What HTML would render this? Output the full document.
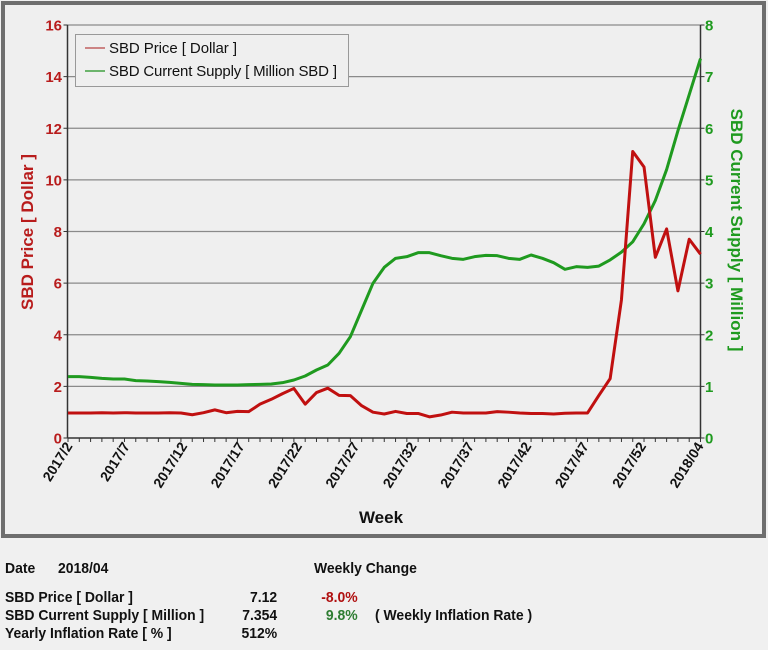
<!DOCTYPE html>
<html><head><meta charset="utf-8"><style>
html,body{margin:0;padding:0;background:#f0f0f0;}
body{width:768px;height:650px;position:relative;overflow:hidden;font-family:"Liberation Sans",Arial,sans-serif;}
.t{position:absolute;font-size:15px;font-weight:bold;color:#111;white-space:nowrap;line-height:16px;transform:scaleX(0.93);transform-origin:left;}
</style></head><body>
<svg id="s" width="768" height="545" style="position:absolute;left:0;top:0" font-family="Liberation Sans, Arial, sans-serif">
<rect x="3" y="3" width="761" height="533" fill="#efefef" stroke="#6e6e6e" stroke-width="4"/>
</svg>
<div class="t" style="left:5px;top:561px">Date</div>
<div class="t" style="left:58px;top:561px">2018/04</div>
<div class="t" style="left:314px;top:561px">Weekly Change</div>
<div class="t" style="left:5px;top:590px">SBD Price [ Dollar ]</div>
<div class="t" style="left:5px;top:608px">SBD Current Supply [ Million ]</div>
<div class="t" style="left:5px;top:626px">Yearly Inflation Rate [ % ]</div>
<div class="t" style="left:200px;top:590px;width:83px;text-align:right">7.12</div>
<div class="t" style="left:200px;top:608px;width:83px;text-align:right">7.354</div>
<div class="t" style="left:200px;top:626px;width:83px;text-align:right">512%</div>
<div class="t" style="left:300px;top:590px;width:62px;text-align:right;color:#b01010">-8.0%</div>
<div class="t" style="left:300px;top:608px;width:62px;text-align:right;color:#2e7d32">9.8%</div>
<div class="t" style="left:375px;top:608px">( Weekly Inflation Rate )</div>
<script>
var s=document.getElementById('s'),NS='http://www.w3.org/2000/svg';
function el(n,a,t){var e=document.createElementNS(NS,n);for(var k in a)e.setAttribute(k,a[k]);if(t!=null)e.textContent=t;s.appendChild(e);return e;}
var L=67.5,R=700.5,T=25,B=438,H=B-T;
for(var v=2;v<=16;v+=2){var y=B-v*H/16;el('line',{x1:L,x2:R,y1:y,y2:y,stroke:'#8a8a8a','stroke-width':1.2});}
for(var v=0;v<=16;v+=2){var y=B-v*H/16;
 el('text',{x:62,y:y+5.5,'text-anchor':'end','font-size':15,'font-weight':'bold',fill:'#b81c1c'},v);
 el('text',{x:705,y:y+5.5,'font-size':15,'font-weight':'bold',fill:'#1f9a1f'},v/2);
 el('line',{x1:L-4,x2:L,y1:y,y2:y,stroke:'#333'});el('line',{x1:R,x2:R+4,y1:y,y2:y,stroke:'#333'});}
var N=57,dx=(R-L-0.5)/(N-1);
function X(i){return 68+i*dx;}
for(var i=0;i<N;i++){el('line',{x1:X(i),x2:X(i),y1:B,y2:B+4,stroke:'#333'});}
var labs=['2017/2','2017/7','2017/12','2017/17','2017/22','2017/27','2017/32','2017/37','2017/42','2017/47','2017/52','2018/04'];
for(var k=0;k<labs.length;k++){var lx=68+k*(631/11)+5,ly=446;
 el('text',{x:lx,y:ly,'text-anchor':'end','font-size':14,'font-weight':'bold',fill:'#111',transform:'rotate(-58 '+lx+' '+ly+')'},labs[k]);}
el('line',{x1:L,x2:L,y1:T,y2:B,stroke:'#333','stroke-width':1.5});
el('line',{x1:R,x2:R,y1:T,y2:B,stroke:'#333','stroke-width':1.5});
el('line',{x1:L,x2:R,y1:B,y2:B,stroke:'#333','stroke-width':1.5});
el('text',{x:0,y:0,'text-anchor':'middle','font-size':17,'font-weight':'bold',fill:'#b81c1c',transform:'translate(33 232) rotate(-90)'},'SBD Price [ Dollar ]');
el('text',{x:0,y:0,'text-anchor':'middle','font-size':17,'font-weight':'bold',fill:'#1f9a1f',transform:'translate(731 230) rotate(90)'},'SBD Current Supply [ Million ]');
el('text',{x:381,y:523,'text-anchor':'middle','font-size':17,'font-weight':'bold',fill:'#111'},'Week');
var red=[0.97,0.97,0.97,0.98,0.97,0.98,0.97,0.97,0.97,0.98,0.97,0.9,0.98,1.09,0.98,1.03,1.02,1.31,1.5,1.72,1.92,1.31,1.76,1.93,1.65,1.64,1.25,1.0,0.93,1.03,0.95,0.95,0.82,0.89,1.0,0.97,0.97,0.97,1.02,1.0,0.97,0.95,0.95,0.93,0.96,0.97,0.97,1.65,2.3,5.35,11.1,10.5,7.0,8.1,5.7,7.7,7.12];
var gz=[410,410,412,415,417,417,422,423,425,427,430,433,434,435,435,435,434,433,432,428,420,408,390,375,340,290,210,130,82,55,50,38,38,47,55,58,50,46,47,55,58,45,55,68,88,80,82];
var gy=gz.map(function(z){return 240+z/3;});
[3.33,3.45,3.6,3.8,4.15,4.6,5.2,5.95,6.65,7.35].forEach(function(v){gy.push(B-v*H/8);});
var pr='',pg='';
for(var i=0;i<N;i++){pr+=X(i)+','+(B-red[i]*H/16)+' ';pg+=X(i)+','+gy[i]+' ';}
el('polyline',{points:pg,fill:'none',stroke:'#1f9a1f','stroke-width':3,'stroke-linejoin':'round'});
el('polyline',{points:pr,fill:'none',stroke:'#c01010','stroke-width':3,'stroke-linejoin':'round'});
el('rect',{x:75.5,y:34.5,width:273,height:52,fill:'#efefef',stroke:'#999'});
el('line',{x1:85,x2:105,y1:48,y2:48,stroke:'#c06060','stroke-width':1.5});
el('line',{x1:85,x2:105,y1:71,y2:71,stroke:'#40a040','stroke-width':1.5});
el('text',{x:109,y:53,'font-size':15,fill:'#111',textLength:128},'SBD Price [ Dollar ]');
el('text',{x:109,y:76,'font-size':15,fill:'#111',textLength:228},'SBD Current Supply [ Million SBD ]');
</script>
</body></html>
